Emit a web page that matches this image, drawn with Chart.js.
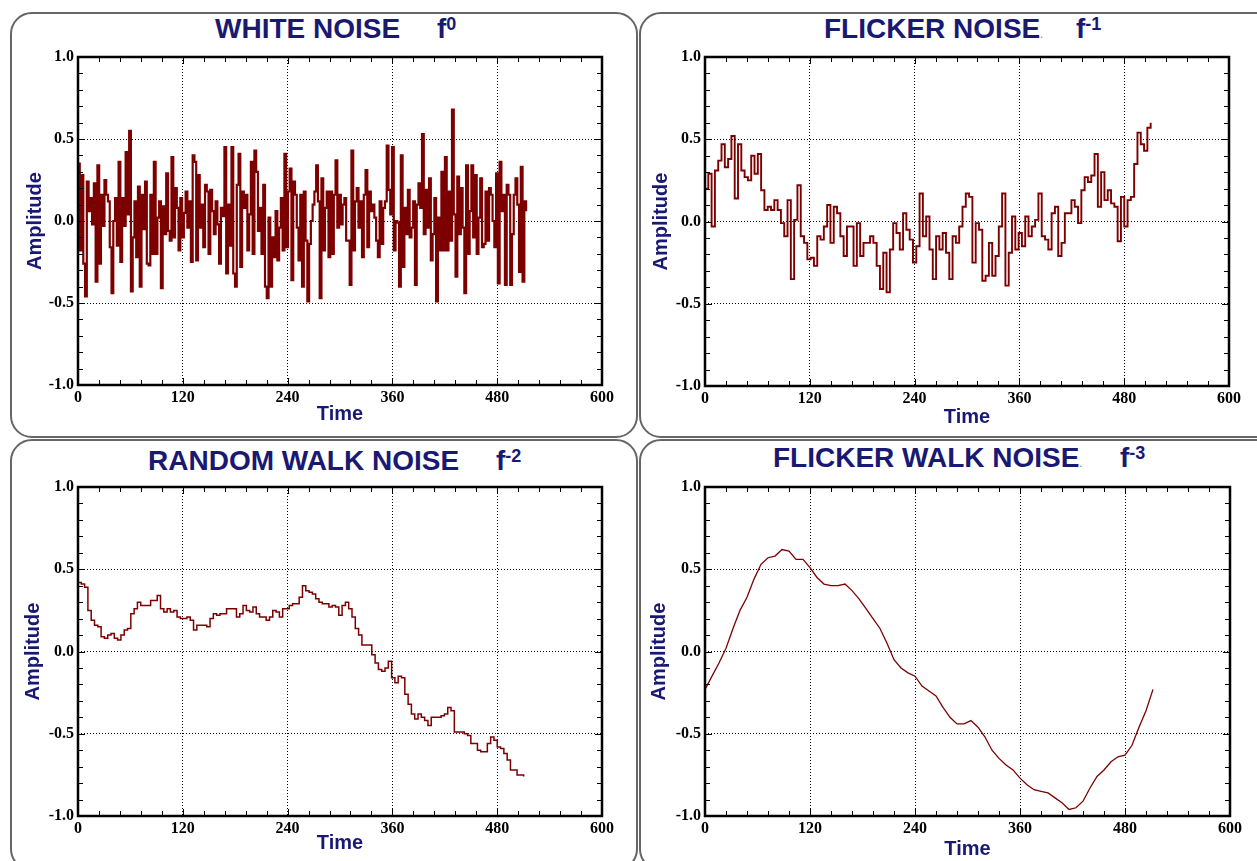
<!DOCTYPE html>
<html><head><meta charset="utf-8">
<script src="https://cdn.jsdelivr.net/npm/chart.js@4/dist/chart.umd.min.js"></script>
<style>
html,body{margin:0;padding:0;background:#fff;width:1257px;height:861px;overflow:hidden;position:relative;font-family:'Liberation Sans',Arial,sans-serif;}
.box{position:absolute;border:2px solid #666;border-radius:22px;box-sizing:border-box;}
.cv{position:absolute;}
.ttl{position:absolute;font-weight:bold;color:#191973;font-size:28px;line-height:28px;white-space:nowrap;}
.sup{font-size:18px;position:relative;top:-8px;}
.dot{font-size:9px;color:#8a8ab0;}
</style></head><body>
<div class="box" style="left:10px;top:12px;width:628px;height:426px;"></div>
<div class="box" style="left:639px;top:12px;width:640px;height:426px;"></div>
<div class="box" style="left:10px;top:439px;width:628px;height:432px;"></div>
<div class="box" style="left:639px;top:439px;width:640px;height:432px;"></div>

<div class="ttl" style="left:215px;top:15px;">WHITE NOISE</div>
<div class="ttl" style="left:437px;top:15px;">f<span class="sup">0</span></div>
<div class="ttl" style="left:824px;top:15px;">FLICKER NOISE<span class="dot">.</span></div>
<div class="ttl" style="left:1076px;top:15px;">f<span class="sup">-1</span></div>
<div class="ttl" style="left:148px;top:447px;">RANDOM WALK NOISE</div>
<div class="ttl" style="left:496px;top:447px;">f<span class="sup">-2</span></div>
<div class="ttl" style="left:773px;top:444px;">FLICKER WALK NOISE<span class="dot">.</span></div>
<div class="ttl" style="left:1120px;top:444px;">f<span class="sup">-3</span></div>

<canvas id="c1" class="cv" width="629" height="430" style="left:0px;top:0px;"></canvas>
<canvas id="c2" class="cv" width="628" height="430" style="left:629px;top:0px;"></canvas>
<canvas id="c3" class="cv" width="629" height="431" style="left:0px;top:430px;"></canvas>
<canvas id="c4" class="cv" width="628" height="431" style="left:629px;top:430px;"></canvas>

<script>
// ---- data ----
const xTicks = [0, 120, 240, 360, 480, 600];
const yTicks = [-1.0, -0.5, 0.0, 0.5, 1.0];
const xTitle = 'Time';
const yTitle = 'Amplitude';

const whiteStep = 2.02;
const whiteNoise = [
0.35,-0.18,0.28,-0.26,-0.46,0.24,0.06,0.14,-0.02,0.23,
-0.37,0.34,-0.26,0.16,-0.03,0.25,0.16,0.12,-0.16,-0.44,
0.0,0.14,-0.15,0.36,-0.25,0.14,-0.03,0.42,0.04,0.55,
-0.43,-0.1,0.12,-0.22,0.21,-0.4,0.16,-0.05,0.24,-0.26,-0.27,
0.16,-0.2,0.36,-0.2,0.02,0.12,-0.41,0.09,-0.08,0.29,-0.06,
-0.12,0.39,-0.1,0.2,0.08,-0.18,0.14,-0.1,0.05,0.18,-0.04,0.12,
-0.25,0.4,0.36,-0.24,0.28,-0.04,0.1,-0.16,0.22,0.18,-0.2,
0.19,0.06,-0.08,0.12,-0.02,-0.26,0.08,0.03,0.45,-0.32,0.1,-0.15,
0.45,-0.32,-0.40,0.22,0.41,-0.28,0.18,0.08,0.16,-0.18,
0.04,0.36,-0.2,0.43,0.3,-0.06,0.08,-0.2,0.22,-0.4,
-0.47,0.02,-0.4,-0.1,-0.22,0.06,-0.24,-0.04,0.14,-0.18,
0.41,-0.16,0.18,0.32,-0.36,0.24,0.16,-0.04,-0.24,0.16,
-0.4,0.18,-0.12,-0.49,-0.14,0.0,0.1,0.18,0.34,0.12,
-0.47,0.26,-0.18,0.08,0.18,-0.22,0.18,-0.2,0.16,0.37,
-0.04,0.16,-0.02,0.1,0.14,-0.12,-0.12,-0.39,0.43,-0.18,
0.12,0.2,-0.04,0.12,-0.22,0.16,0.31,-0.16,0.18,0.06,
0.1,0.02,-0.12,-0.22,0.12,-0.14,0.08,0.12,
0.46,0.19,0.04,0.45,-0.18,0.0,-0.01,-0.4,0.4,-0.28,
0.08,-0.08,0.19,-0.1,-0.04,0.12,-0.39,0.1,0.23,0.08,
0.53,-0.08,0.19,-0.04,0.26,-0.24,-0.08,0.14,-0.49,0.02,
-0.18,0.3,-0.18,0.39,-0.18,0.18,-0.12,0.68,0.04,-0.34,
0.27,-0.08,0.2,-0.04,-0.44,0.34,-0.2,0.06,0.34,-0.1,
0.28,-0.2,0.02,0.26,-0.16,-0.14,0.18,-0.12,0.2,0.16,
0.0,-0.16,0.29,-0.38,0.36,0.06,0.16,-0.39,0.22,0.16,
-0.39,-0.08,0.16,0.26,0.1,-0.31,0.33,-0.37,0.12,0.06
];

const flickerStep = 3.78;
const flickerNoise = [
0.2,0.29,-0.03,0.31,0.37,0.47,0.33,0.38,0.52,0.14,
0.47,0.31,0.27,0.25,0.4,0.29,0.41,0.19,0.07,0.09,
0.07,0.13,0.07,-0.01,-0.09,0.13,-0.35,0.01,0.22,-0.09,
-0.13,-0.23,-0.22,-0.27,-0.09,-0.11,-0.03,0.1,-0.13,0.09,
0.05,-0.09,-0.21,-0.03,-0.03,-0.27,-0.01,-0.21,-0.13,-0.13,
-0.09,-0.13,-0.27,-0.41,-0.19,-0.43,-0.17,-0.01,-0.07,-0.17,
0.05,-0.05,-0.11,-0.25,-0.15,0.17,-0.09,0.03,-0.17,-0.35,
-0.09,-0.17,-0.07,-0.19,-0.35,-0.09,-0.13,-0.03,0.09,0.17,
0.15,-0.25,-0.01,-0.05,-0.36,-0.33,-0.13,-0.33,-0.21,-0.03,
0.17,-0.39,-0.19,0.03,-0.17,-0.07,-0.15,0.03,-0.09,-0.03,
0.01,0.17,-0.09,-0.11,-0.17,0.05,0.09,-0.21,-0.13,0.05,
0.05,0.13,0.09,-0.01,0.19,0.27,0.24,0.28,0.41,0.09,
0.3,0.13,0.19,0.11,0.09,-0.12,0.15,-0.03,0.13,0.15,
0.35,0.54,0.47,0.43,0.57,0.6
];

const walkStep = 3.78;
const randomWalk = [
0.42,0.41,0.39,0.25,0.19,0.16,0.15,0.09,0.08,0.10,0.11,
0.08,0.07,0.10,0.13,0.14,0.23,0.26,0.30,0.28,0.28,
0.28,0.31,0.31,0.34,0.26,0.24,0.26,0.24,0.25,0.21,
0.20,0.20,0.21,0.19,0.13,0.16,0.16,0.16,0.15,0.20,
0.23,0.22,0.23,0.23,0.26,0.26,0.26,0.21,0.23,0.28,
0.25,0.24,0.27,0.23,0.21,0.21,0.19,0.21,0.25,0.24,
0.21,0.26,0.26,0.28,0.29,0.29,0.33,0.40,0.37,0.36,
0.35,0.32,0.30,0.29,0.29,0.27,0.28,0.27,0.22,0.28,
0.30,0.26,0.21,0.14,0.10,0.04,0.04,0.04,-0.02,-0.07,
-0.11,-0.12,-0.10,-0.06,-0.16,-0.19,-0.15,-0.16,-0.26,-0.32,
-0.38,-0.41,-0.38,-0.40,-0.42,-0.45,-0.40,-0.40,-0.40,-0.39,
-0.38,-0.34,-0.36,-0.49,-0.49,-0.49,-0.50,-0.51,-0.56,-0.56,
-0.60,-0.61,-0.61,-0.56,-0.52,-0.54,-0.58,-0.59,-0.62,-0.66,
-0.72,-0.72,-0.75,-0.75,-0.76
];

const fwalkStep = 8;
const flickerWalk = [
-0.23,-0.15,-0.07,0.02,0.14,0.25,0.33,0.44,0.53,0.57,
0.58,0.62,0.61,0.56,0.56,0.51,0.45,0.41,0.40,0.40,
0.41,0.37,0.32,0.26,0.20,0.14,0.05,-0.05,-0.10,-0.13,
-0.15,-0.21,-0.24,-0.27,-0.34,-0.40,-0.44,-0.44,-0.42,-0.46,
-0.52,-0.60,-0.65,-0.69,-0.72,-0.77,-0.81,-0.84,-0.85,-0.86,
-0.89,-0.92,-0.96,-0.95,-0.91,-0.83,-0.76,-0.72,-0.67,-0.64,
-0.63,-0.57,-0.46,-0.36,-0.23
];

const minorXStep = 24;
const minorYStep = 0.1;

// ---- styling ----
const NAVY = '#191973';
const LINE = '#7d0000';
const tickFont = {family:"'Liberation Serif','Times New Roman',serif", size:16, weight:'bold'};
const axisTitleFont = {family:"'Liberation Sans',Arial,sans-serif", size:20, weight:'bold', lineHeight:1.2};

const framePlugin = {
  id:'frame',
  afterDatasetsDraw(chart){
    const {ctx, chartArea:a, scales:{x, y}} = chart;
    ctx.save();
    ctx.strokeStyle = '#000';
    ctx.lineWidth = 1;
    ctx.beginPath();
    const nx = Math.round((xTicks[xTicks.length-1]-xTicks[0])/minorXStep);
    for (let i=0;i<=nx;i++){
      const v = xTicks[0] + i*minorXStep;
      const px = Math.round(x.getPixelForValue(v))+0.5;
      const len = (i%5===0)?7:5;
      ctx.moveTo(px,a.top); ctx.lineTo(px,a.top+len);
      ctx.moveTo(px,a.bottom); ctx.lineTo(px,a.bottom-len);
    }
    const ny = Math.round((yTicks[yTicks.length-1]-yTicks[0])/minorYStep);
    for (let i=0;i<=ny;i++){
      const v = yTicks[0] + i*minorYStep;
      const py = Math.round(y.getPixelForValue(v))+0.5;
      const len = (i%5===0)?7:5;
      ctx.moveTo(a.left,py); ctx.lineTo(a.left+len,py);
      ctx.moveTo(a.right,py); ctx.lineTo(a.right-len,py);
    }
    ctx.stroke();
    ctx.lineWidth = 2.5;
    ctx.strokeRect(a.left, a.top, a.right-a.left, a.bottom-a.top);
    ctx.restore();
  }
};

function makeChart(id, values, step, stepped, lw, g){
  const pts = values.map((v,i)=>({x:i*step, y:v}));
  return new Chart(document.getElementById(id), {
    type:'line',
    data:{datasets:[{data:pts, borderColor:LINE, borderWidth:lw, pointRadius:0, stepped:stepped, tension:0, fill:false}]},
    options:{
      responsive:false, animation:false, devicePixelRatio:1,
      layout:{padding:{left:0, top:g.padTop, right:g.padRight, bottom:0}},
      plugins:{legend:{display:false}, tooltip:{enabled:false}},
      scales:{
        x:{type:'linear', min:xTicks[0], max:xTicks[xTicks.length-1],
           afterBuildTicks:s=>{s.ticks = xTicks.map(v=>({value:v}));},
           ticks:{font:tickFont, color:'#000', padding:3, maxRotation:0, autoSkip:false},
           grid:{color:'#000', lineWidth:1, drawTicks:false},
           border:{display:false, dash:[1,2]},
           title:{display:true, text:xTitle, color:NAVY, font:axisTitleFont, padding:{top:0,bottom:g.xTitlePad}},
           afterFit:s=>{s.height = g.xH;}
        },
        y:{type:'linear', min:yTicks[0], max:yTicks[yTicks.length-1],
           afterBuildTicks:s=>{s.ticks = yTicks.map(v=>({value:v}));},
           ticks:{font:tickFont, color:'#000', padding:4, callback:v=>Number(v).toFixed(1)},
           grid:{color:'#000', lineWidth:1, drawTicks:false},
           border:{display:false, dash:[1,2]},
           title:{display:true, text:yTitle, color:NAVY, font:axisTitleFont, padding:{top:g.yTitlePad,bottom:0}},
           afterFit:s=>{s.width = g.yW;}
        }
      }
    },
    plugins:[framePlugin]
  });
}

makeChart('c1', whiteNoise, whiteStep, true, 2.2, {yW:78, xH:45, padTop:57, padRight:27, xTitlePad:4, yTitlePad:23});
makeChart('c2', flickerNoise, flickerStep, true, 1.9, {yW:76, xH:44, padTop:57, padRight:28, xTitlePad:1, yTitlePad:20});
makeChart('c3', randomWalk, walkStep, true, 1.5, {yW:78, xH:45, padTop:57, padRight:27, xTitlePad:6, yTitlePad:21});
makeChart('c4', flickerWalk, fwalkStep, false, 1.3, {yW:76, xH:45, padTop:57, padRight:27, xTitlePad:0, yTitlePad:18});
</script>
</body></html>
